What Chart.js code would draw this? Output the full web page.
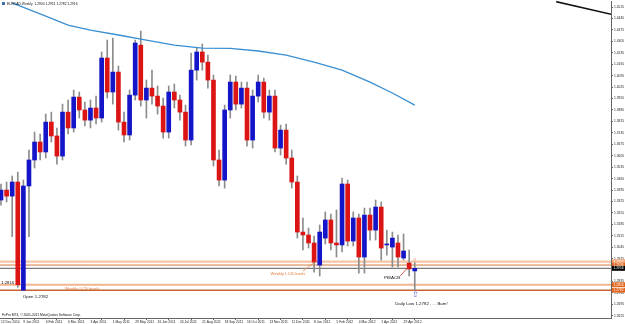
<!DOCTYPE html>
<html><head><meta charset="utf-8">
<script src="https://cdn.jsdelivr.net/npm/chart.js@4"></script>
<style>html,body{margin:0;padding:0;background:#fff;overflow:hidden}canvas{display:block}</style>
</head><body>
<canvas id="c" width="625" height="324"></canvas>
<script>
// ---- data (EURCAD weekly) ----
const weekIdx = Array.from({length:75},(_,i)=>i); // week slots starting 12 Dec 2010
const openP  = [1.3334,1.3395,1.3358,1.3444,1.2782,1.3420,1.3579,1.3689,1.3628,1.3811,
1.3726,1.3603,1.3872,1.3775,1.3964,1.3885,1.3823,1.3897,1.3836,1.4203,
1.3995,1.4117,1.3811,1.3732,1.3976,1.4282,1.3946,1.4019,1.3970,1.3909,
1.3750,1.3995,1.3946,1.3872,1.3701,1.4129,1.4240,1.4178,1.4068,1.3579,
1.3456,1.3885,1.4056,1.3921,1.4019,1.3701,1.3970,1.4056,1.3872,1.3970,
1.3652,1.3762,1.3591,1.3444,1.3138,1.3120,1.3071,1.2936,1.3101,1.3212,
1.3071,1.3059,1.3432,1.3083,1.3224,1.2985,1.3242,1.3150,1.3291,1.3059,
1.3046,1.3071,1.2979,1.2948,1.2900];
const highP  = [1.3432,1.3444,1.3481,1.3505,1.3456,1.3640,1.3750,1.3738,1.3860,1.3872,
1.3775,1.3921,1.3946,1.4007,1.3995,1.3934,1.3946,1.3970,1.4240,1.4313,
1.4325,1.4154,1.3872,1.4007,1.4313,1.4368,1.4068,1.4129,1.4032,1.3958,
1.4032,1.4044,1.3976,1.3915,1.4233,1.4264,1.4289,1.4221,1.4099,1.3640,
1.3915,1.4099,1.4093,1.4056,1.4056,1.4007,1.4099,1.4080,1.4007,1.4007,
1.3793,1.3799,1.3640,1.3481,1.3224,1.3163,1.3114,1.3181,1.3261,1.3248,
1.3273,1.3469,1.3456,1.3261,1.3248,1.3285,1.3285,1.3334,1.3322,1.3150,
1.3138,1.3120,1.3126,1.3028,1.2951];
const lowP   = [1.3303,1.3322,1.3110,1.2800,1.2780,1.3110,1.3530,1.3579,1.3591,1.3689,
1.3554,1.3579,1.3738,1.3750,1.3836,1.3787,1.3775,1.3799,1.3811,1.3958,
1.3921,1.3762,1.3689,1.3701,1.3946,1.3909,1.3836,1.3921,1.3860,1.3713,
1.3713,1.3897,1.3823,1.3664,1.3671,1.4068,1.4129,1.4019,1.3542,1.3420,
1.3407,1.3836,1.3885,1.3897,1.3664,1.3652,1.3934,1.3836,1.3823,1.3628,
1.3609,1.3554,1.3407,1.3101,1.3028,1.3040,1.2893,1.2869,1.3065,1.3028,
1.2985,1.3016,1.3053,1.3053,1.2887,1.2887,1.3089,1.3089,1.2967,1.2997,
1.2924,1.2924,1.2967,1.2869,1.2782];
const closeP = [1.3395,1.3358,1.3444,1.2816,1.3420,1.3579,1.3689,1.3628,1.3811,1.3726,
1.3603,1.3872,1.3775,1.3964,1.3885,1.3823,1.3897,1.3836,1.4203,1.3995,
1.4117,1.3811,1.3732,1.3976,1.4295,1.3946,1.4019,1.3970,1.3909,1.3750,
1.3995,1.3946,1.3872,1.3701,1.4129,1.4240,1.4178,1.4068,1.3579,1.3456,
1.3885,1.4056,1.3921,1.4019,1.3701,1.3970,1.4056,1.3872,1.3970,1.3652,
1.3762,1.3591,1.3444,1.3138,1.3120,1.3071,1.2954,1.3138,1.3212,1.3071,
1.3059,1.3432,1.3083,1.3224,1.2985,1.3242,1.3150,1.3291,1.3040,1.3065,
1.3101,1.2985,1.3022,1.2912,1.2916];
const maIdx = [2,3,8,12,16,21,26,31,36,41,46,51,56,61,66,70,74];
const maVal = [1.4540,1.4527,1.4460,1.4405,1.4374,1.4344,1.4313,1.4282,1.4264,1.4262,1.4246,1.4221,1.4178,1.4129,1.4056,1.3989,1.3915];
const slowIdx = [99.3,109.2];
const slowVal = [1.4548,1.4470];
const levelVal = [1.2957,1.2936,1.2916,1.2816,1.2782];
const yTicks = [1.4515,1.4445,1.4375,1.4305,1.4235,1.4165,1.4095,1.4025,1.3955,1.3885,1.3815,1.3745,1.3675,1.3605,1.3535,1.3465,1.3395,1.3325,1.3255,1.3185,1.3115,1.3045,1.2975,1.2905,1.2835,1.2765,1.2695,1.2625];
const xTickIdx = [0,4,8,12,16,20,24,28,32,36,40,44,48,52,56,60,64,68,72];
const xTickLabels = ['12 Dec 2010','9 Jan 2011','6 Feb 2011','6 Mar 2011','3 Apr 2011','1 May 2011','29 May 2011','26 Jun 2011','24 Jul 2011','21 Aug 2011','18 Sep 2011','16 Oct 2011','13 Nov 2011','11 Dec 2011','8 Jan 2012','5 Feb 2012','4 Mar 2012','1 Apr 2012','29 Apr 2012'];
const titleText = 'EURCAD,Weekly  1.2900 1.2951 1.2782 1.2916';
const footText = 'FxPro MT4, \u00a9 2001-2011 MetaQuotes Software Corp.';

// ---- styles ----
const FONT = '"Liberation Sans", Arial, sans-serif';
const AXF = 3.3;
const UP = '#1414c8', DOWN = '#dc1414', WICK = '#8c8c8c';
const levelStyle = [
  {color:'#f5c4a4', width:2.2, box:'#f0a878', txt:'#fff'},
  {color:'#d8783a', width:1,   box:'#e2661e', txt:'#fff'},
  {color:'#5a5a5a', width:1,   box:'#000000', txt:'#fff'},
  {color:'#f2b690', width:2,   box:'#e2661e', txt:'#fff'},
  {color:'#c86432', width:1.4, box:'#e2661e', txt:'#fff'}
];
const notes = [
  {text:'Open 1.2782', i:3.9, p:1.2742, color:'#111', size:4.4, align:'left'},
  {text:'1.2816', i:0.05, p:1.2830, color:'#111', size:4.2, align:'left'},
  {text:'Weekly LCS levels', i:11.4, p:1.2791, color:'#e07a3a', size:4.2, align:'left'},
  {text:'Weekly LCS levels', i:48.2, p:1.2885, color:'#e07a3a', size:4.2, align:'left'},
  {text:'PB/ACB', i:68.5, p:1.2856, color:'#111', size:4.4, align:'left'},
  {text:'Daily Low 1.2782 . . . Bam!', i:70.5, p:1.2697, color:'#111', size:4.4, align:'left'},
  {text:'\u21e7', i:74.05, p:1.2752, color:'#5a5acc', size:8, align:'center'},
  {text:'o', i:74.0, p:1.2968, color:'#f0a080', size:5, align:'center'}
];
const connectors = [
  {from:[54.0,1.2899], to:[56.3,1.2958], color:'#e08a50'},
  {from:[71.4,1.2870], to:[73.2,1.2936], color:'#d03030'}
];

const bodies = weekIdx.map(i=>({x:i, y:[Math.min(openP[i],closeP[i]), Math.max(openP[i],closeP[i])]}));
const wicks  = weekIdx.map(i=>({x:i, y:[lowP[i], highP[i]]}));
const bodyColor = weekIdx.map(i=> closeP[i] >= openP[i] ? UP : DOWN);

const levelSets = levelVal.map((v,k)=>({
  type:'line', data:[{x:-5,y:v},{x:125,y:v}], borderColor:levelStyle[k].color,
  borderWidth:levelStyle[k].width, pointRadius:0, order:10
}));

const overlay = {
  id:'overlay',
  afterDraw(chart){
    const ctx = chart.ctx, xs = chart.scales.x, ys = chart.scales.y, ca = chart.chartArea;
    ctx.save();
    ctx.beginPath(); ctx.rect(ca.left, ca.top, ca.right-ca.left, ca.bottom-ca.top); ctx.clip();
    connectors.forEach(c=>{
      ctx.strokeStyle=c.color; ctx.lineWidth=0.8; ctx.beginPath();
      ctx.moveTo(xs.getPixelForValue(c.from[0]), ys.getPixelForValue(c.from[1]));
      ctx.lineTo(xs.getPixelForValue(c.to[0]), ys.getPixelForValue(c.to[1]));
      ctx.stroke();
    });
    ctx.textBaseline='middle';
    notes.forEach(n=>{
      ctx.font = n.size+'px '+FONT; ctx.fillStyle=n.color; ctx.textAlign=n.align;
      ctx.fillText(n.text, xs.getPixelForValue(n.i), ys.getPixelForValue(n.p));
    });
    ctx.restore();
    ctx.save();
    ctx.font=AXF+'px '+FONT; ctx.textBaseline='middle'; ctx.textAlign='left';
    ctx.fillStyle='#3b6fb0'; ctx.fillRect(2,2,3,3);
    ctx.fillStyle='#111';
    ctx.fillText(titleText, 7, 4.5);
    ctx.fillText(footText, 2, 315);
    levelVal.forEach((v,k)=>{
      const y = ys.getPixelForValue(v);
      ctx.fillStyle=levelStyle[k].box; ctx.fillRect(ca.right+1, y-2.4, 14, 4.8);
      ctx.fillStyle=levelStyle[k].txt; ctx.font=AXF+'px '+FONT;
      ctx.fillText(v.toFixed(4), ca.right+2.5, y+0.2);
    });
    ctx.restore();
  }
};

new Chart(document.getElementById('c'), {
  type:'bar',
  data:{ datasets:[
    {type:'line', data:maIdx.map((x,k)=>({x, y:maVal[k]})), borderColor:'#3a8fd2', borderWidth:1.3, pointRadius:0, order:0},
    {type:'line', data:slowIdx.map((x,k)=>({x, y:slowVal[k]})), borderColor:'#111', borderWidth:1.6, pointRadius:0, order:0},
    {data:bodies, backgroundColor:bodyColor, borderWidth:0, barThickness:4, minBarLength:1, grouped:false, order:1},
    {data:wicks, backgroundColor:WICK, borderWidth:0, barThickness:1, grouped:false, order:2},
    ...levelSets
  ]},
  options:{
    responsive:false, animation:false, devicePixelRatio:1, events:[],
    layout:{padding:{top:1,left:0,right:0,bottom:0}},
    plugins:{legend:{display:false}, tooltip:{enabled:false}},
    scales:{
      x:{type:'linear', min:-0.18, max:109.1, offset:false,
        afterBuildTicks:s=>{s.ticks = xTickIdx.map(v=>({value:v}));},
        afterFit:s=>{s.height=6; s.paddingLeft=0; s.paddingRight=0;},
        ticks:{autoSkip:false, maxRotation:0, minRotation:0, align:'start', padding:0,
          font:{size:AXF, family:FONT}, color:'#222',
          callback:(v,i)=>xTickLabels[i]},
        grid:{drawOnChartArea:false, tickLength:2, color:'#666'},
        border:{color:'#666', width:1}},
      y:{position:'right', min:1.2612, max:1.4552,
        afterBuildTicks:s=>{s.ticks = yTicks.map(v=>({value:v}));},
        afterFit:s=>{s.width=14; s.paddingTop=0; s.paddingBottom=0;},
        ticks:{autoSkip:false, padding:1, font:{size:AXF, family:FONT}, color:'#222',
          callback:v=>Number(v).toFixed(4)},
        grid:{drawOnChartArea:false, tickLength:2, color:'#666'},
        border:{color:'#666', width:1}}
    }
  },
  plugins:[overlay]
});
</script>
</body></html>
